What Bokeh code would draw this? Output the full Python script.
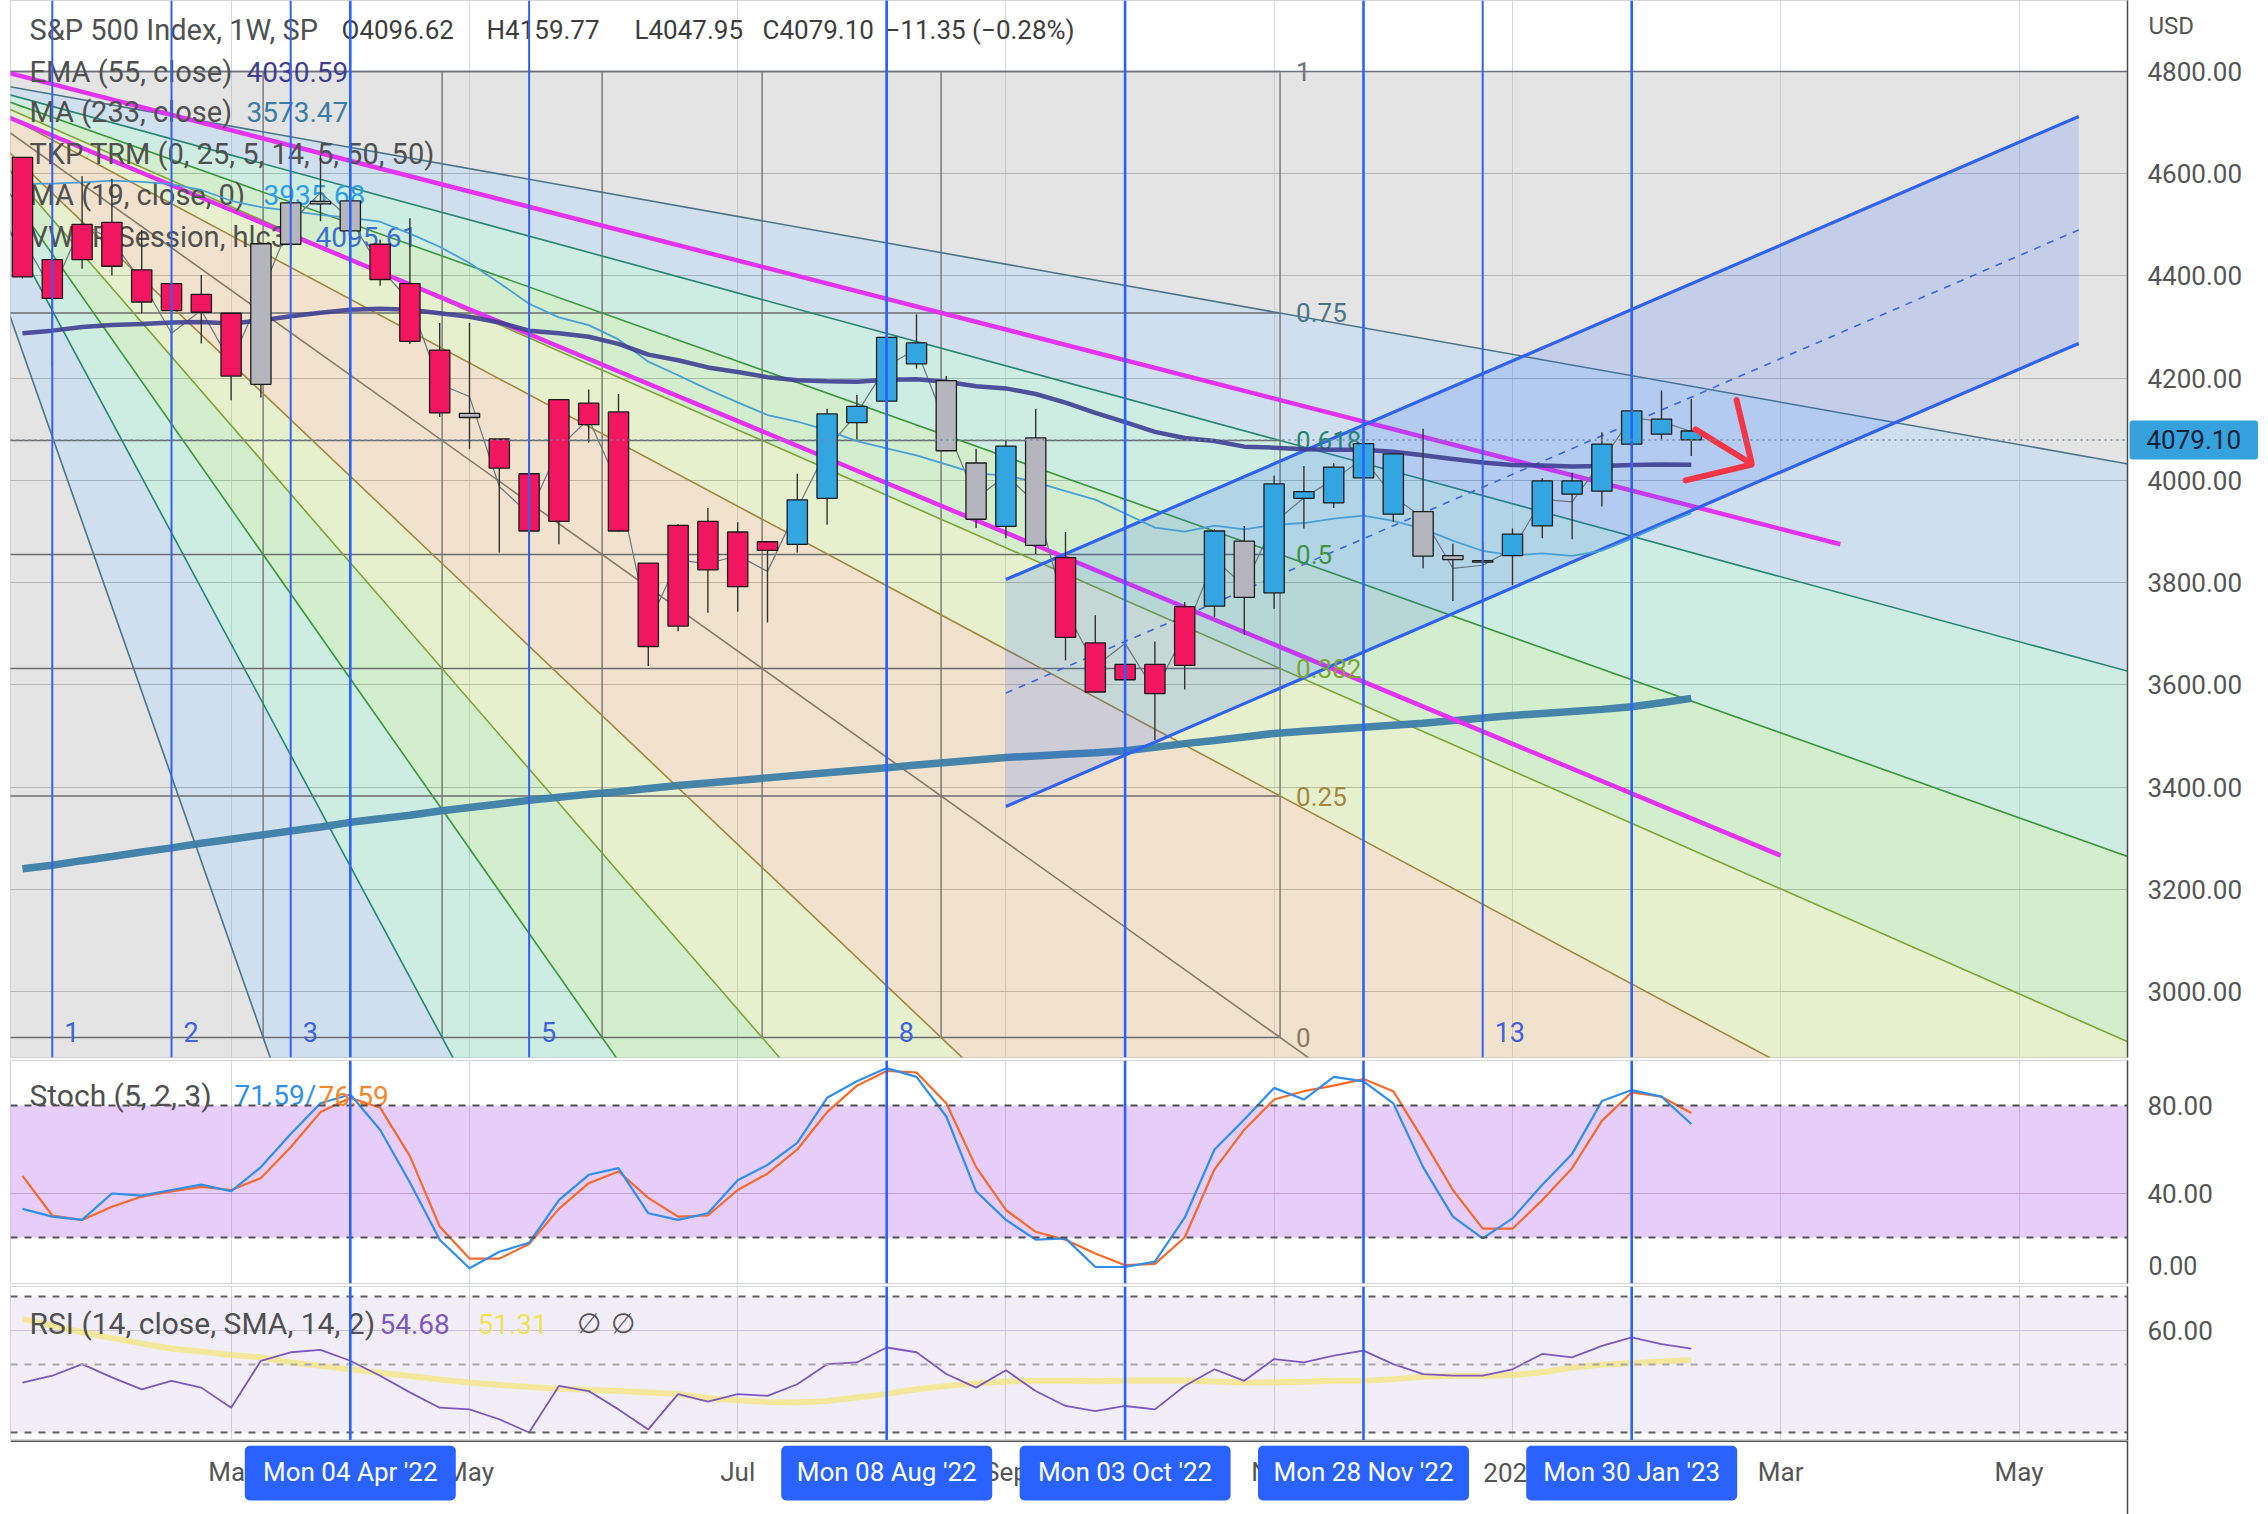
from bokeh.plotting import figure
from bokeh.layouts import column
from bokeh.models import (Range1d, FixedTicker, PrintfTickFormatter, Span,
                          BoxAnnotation, Label, ColumnDataSource, Grid)
from bokeh.core.properties import value
from bokeh.embed import file_html
from bokeh.resources import INLINE

# ======================= DATA (weekly bars, Mon 17 Jan 2022 .. Mon 13 Feb 2023) =======================
opens = [4632, 4356, 4432, 4505, 4412, 4332, 4364, 4327, 4188, 4462,
         4541, 4547, 4462, 4385, 4255, 4131, 4081, 4013, 3920, 4151,
         4134, 3838, 3715, 3920, 3792, 3880, 3875, 3965, 4113, 4155,
         4269, 4195, 4034, 3910, 4083, 3849, 3682, 3610, 3640, 3638,
         3754, 3881, 3780, 3978, 3956, 4005, 4052, 3939, 3853, 3843,
         3853, 3911, 3999, 3979, 4071, 4120, 4096.62]
highs = [4632, 4453, 4595, 4590, 4490, 4363, 4402, 4327, 4466, 4546,
         4637, 4594, 4471, 4513, 4308, 4308, 4081, 4091, 4159, 4178,
         4169, 3838, 3914, 3946, 3918, 3880, 4013, 4140, 4167, 4280,
         4325, 4204, 4062, 4077, 4140, 3899, 3736, 3818, 3685, 3762,
         3905, 3911, 4009, 4028, 4034, 4101, 4052, 4101, 3876, 3878,
         3906, 4004, 4015, 4094, 4195, 4176, 4159.77]
lows = [4395, 4222, 4414, 4401, 4327, 4115, 4268, 4157, 4162, 4424,
        4507, 4450, 4381, 4267, 4124, 4062, 3859, 3811, 3875, 4074,
        3900, 3637, 3705, 3741, 3743, 3722, 3859, 3913, 4080, 4112,
        4219, 4057, 3907, 3887, 3856, 3648, 3585, 3584, 3492, 3591,
        3733, 3698, 3749, 3906, 3946, 3956, 3919, 3828, 3764, 3784,
        3795, 3887, 3885, 3949, 4037, 4080, 4047.95]
closes = [4398, 4432, 4501, 4419, 4349, 4385, 4329, 4204, 4463, 4543,
          4546, 4488, 4393, 4272, 4132, 4123, 4024, 3901, 4158, 4109,
          3901, 3675, 3912, 3825, 3899, 3863, 3962, 4130, 4145, 4280,
          4228, 4058, 3924, 4067, 3873, 3693, 3586, 3640, 3583, 3753,
          3901, 3771, 3993, 3965, 4026, 4072, 3934, 3852, 3845, 3840,
          3895, 3999, 3973, 4071, 4136, 4090.45, 4079.10]
trm_state = ["bear", "bear", "bear", "bear", "bear", "bear", "bear", "bear", "neutral", "neutral",
             "neutral", "neutral", "bear", "bear", "bear", "neutral", "bear", "bear", "bear", "bear",
             "bear", "bear", "bear", "bear", "bear", "bear", "bull", "bull", "bull", "bull",
             "bull", "neutral", "neutral", "bull", "neutral", "bear", "bear", "bear", "bear", "bear",
             "bull", "neutral", "bull", "bull", "bull", "bull", "bull", "neutral", "neutral", "neutral",
             "bull", "bull", "bull", "bull", "bull", "bull", "bull"]
ema55 = [4288, 4293, 4300, 4304, 4306, 4309, 4310, 4307, 4313, 4321,
         4328, 4334, 4336, 4334, 4327, 4320, 4309, 4293, 4288, 4281,
         4267, 4246, 4235, 4221, 4212, 4202, 4196, 4194, 4193, 4197,
         4198, 4193, 4184, 4180, 4169, 4152, 4132, 4114, 4095, 4083,
         4077, 4066, 4064, 4061, 4060, 4060, 4056, 4049, 4042, 4035,
         4030, 4029, 4027, 4028, 4030, 4031, 4030.59]
ma233 = [3240, 3247, 3256, 3264, 3273, 3281, 3290, 3298, 3306, 3314,
         3322, 3331, 3338, 3345, 3353, 3360, 3367, 3374, 3380, 3386,
         3391, 3397, 3403, 3408, 3413, 3418, 3423, 3428, 3433, 3438,
         3443, 3448, 3453, 3458, 3461, 3464, 3467, 3471, 3478, 3485,
         3491, 3498, 3505, 3509, 3513, 3517, 3521, 3525, 3530, 3535,
         3540, 3544, 3548, 3552, 3557, 3565, 3573.47]
ma19 = [4580.6, 4580.6, 4583.0, 4586.3, 4584.1, 4579.5, 4568.2, 4547.1, 4534.7, 4527.3,
        4519.3, 4513.7, 4506.1, 4482.9, 4457.2, 4425.4, 4386.4, 4345.5, 4318.9, 4303.7,
        4275.8, 4232.3, 4205.6, 4178.1, 4152.5, 4127.9, 4115.2, 4097.7, 4076.7, 4062.7,
        4049.1, 4031.4, 4013.1, 4009.7, 3996.5, 3979.1, 3962.5, 3935.3, 3907.6, 3899.8,
        3911.7, 3904.3, 3913.1, 3916.6, 3925.2, 3930.9, 3920.6, 3905.2, 3882.3, 3861.9,
        3853.3, 3857.3, 3852.3, 3862.7, 3886.1, 3912.6, 3935.68]
vwap = [4475, 4369, 4503, 4470, 4389, 4288, 4333, 4229, 4364, 4504,
        4563, 4511, 4415, 4351, 4188, 4164, 3988, 3934, 4064, 4120,
        3990, 3717, 3844, 3837, 3853, 3822, 3945, 4061, 4131, 4224,
        4257, 4106, 3964, 4010, 3956, 3747, 3636, 3681, 3587, 3702,
        3846, 3793, 3917, 3966, 4002, 4043, 3968, 3927, 3828, 3834,
        3865, 3963, 3958, 4038, 4123, 4115, 4095.61]
stoch_k = [33, 29.5, 28, 40, 39, 41.6, 44, 41, 52, 67,
           81, 85, 69, 45, 19, 6, 13.5, 17.6, 37, 48.5,
           51.5, 31, 28, 31, 46, 53, 63, 83.5, 91, 97,
           93, 75, 41, 28, 19, 19.6, 6.6, 6.6, 9, 29,
           60, 73.6, 88, 82.7, 93, 91, 81, 52, 29.5, 19.6,
           28.7, 44, 58, 82, 87, 84, 71.59]
stoch_d = [48, 30, 28, 34, 38.6, 41, 43, 41.6, 47, 61,
           77, 83.5, 79, 57, 25, 10.4, 10.4, 17, 33, 44.7,
           50, 38, 29.5, 30, 41.6, 49, 60, 77, 89, 95.7,
           95, 81, 52, 32.5, 22.6, 19, 12.7, 7.4, 8, 20,
           51, 69, 82.7, 86.5, 89, 92, 86.5, 64.5, 41.6, 24,
           24, 37, 51.5, 73, 86, 84, 76.59]
rsi14 = [44.7, 46.7, 50.1, 46.2, 42.7, 45.2, 43.2, 37.3, 51.1, 53.6,
         54.3, 51.1, 46.7, 41.8, 37.3, 36.8, 33.9, 30.0, 43.7, 42.2,
         36.8, 30.9, 41.3, 39.1, 41.3, 40.8, 44.2, 50.1, 50.6, 55.0,
         53.6, 47.2, 43.2, 48.3, 42.2, 37.8, 36.3, 37.8, 36.8, 43.7,
         48.6, 45.2, 51.6, 50.6, 52.6, 54.1, 50.1, 47.2, 46.7, 46.7,
         48.6, 53.1, 52.1, 55.5, 58.0, 56.0, 54.68]
rsi_sma = [63.4, 61.4, 59.5, 57.8, 56.2, 54.7, 53.8, 52.8, 52.1, 50.6,
           49.6, 48.6, 47.6, 46.6, 45.6, 44.7, 44.0, 43.4, 42.9, 42.6,
           42.2, 41.8, 41.3, 40.1, 39.5, 39.0, 38.8, 39.3, 40.3, 41.3,
           42.7, 43.7, 44.4, 45.0, 45.2, 45.2, 45.1, 45.2, 45.3, 45.2,
           45.0, 44.7, 44.7, 44.9, 45.2, 45.2, 45.7, 46.4, 46.7, 46.7,
           46.9, 47.7, 49.1, 49.9, 50.4, 50.9, 51.31]

price_ticks = [3000, 3200, 3400, 3600, 3800, 4000, 4200, 4400, 4600, 4800]
stoch_ticks = [40, 80]
stoch_floor_tick = 0
rsi_ticks = [60]
stoch_bands = [20, 80]
rsi_bands = [30, 50, 70]
month_tick_pos = [7, 15, 24, 33, 42, 50, 59, 67]
month_tick_labels = ["Mar", "May", "Jul", "Sep", "Nov", "2023", "Mar", "May"]
marker_pos = [11, 29, 37, 45, 54]
marker_labels = ["Mon 04 Apr '22", "Mon 08 Aug '22", "Mon 03 Oct '22", "Mon 28 Nov '22", "Mon 30 Jan '23"]
fib_zone_pos = [1, 5, 9, 17, 29, 49]
fib_zone_labels = ["1", "2", "3", "5", "8", "13"]
fan_levels = [1, 0.75, 0.618, 0.5, 0.382, 0.25, 0]
fan_level_labels = ["1", "0.75", "0.618", "0.5", "0.382", "0.25", "0"]
fan_anchor_x = [-3.3, 42.2]
fan_anchor_price = [4800, 2910]
channel_x = [33, 69]
channel_upper = [3806, 4712]
channel_lower = [3362, 4268]
trend_a_x, trend_a_y = [-0.45, 61.0], [4797, 3875]
trend_b_x, trend_b_y = [-0.45, 59.0], [4710, 3266]
arrow_xs = [[56.14, 57.95], [57.52, 58.02], [58.02, 55.81]]
arrow_ys = [[4100, 4035], [4157, 4035], [4031, 4000]]
last_price = closes[-1]

# ======================= LAYOUT / STYLE =======================
FONT = "Roboto"
FRAME_LEFT, FRAME_W, AXIS_W = 10, 2117, 141
BAR_PX, FIRST_BAR_PX = 29.8, 22.0
X_MIN = (FRAME_LEFT - FIRST_BAR_PX) / BAR_PX
X_MAX = (FRAME_LEFT + FRAME_W - FIRST_BAR_PX) / BAR_PX
MAIN_H, STOCH_H, RSI_H, TIME_H = 1057, 223, 154, 74
P_TOP, P_BOT = 4938.9, 2870.9
S_TOP, S_BOT = 100.45, -0.91
R_TOP, R_BOT = 72.94, 27.65


def px_x(px):
    return (px - FIRST_BAR_PX) / BAR_PX


def main_y(py):
    return P_TOP - py * (P_TOP - P_BOT) / MAIN_H


def stoch_y(py):
    return S_TOP - (py - 1060) * (S_TOP - S_BOT) / STOCH_H


def rsi_y(py):
    return R_TOP - (py - 1286) * (R_TOP - R_BOT) / RSI_H


x_range = Range1d(X_MIN, X_MAX)


def make_fig(h, y0, y1, top=0, bottom=0, outline="#d4d6d9"):
    f = figure(frame_width=FRAME_W, frame_height=h, x_range=x_range, y_range=Range1d(y0, y1),
               x_axis_location=None, y_axis_location="right", toolbar_location=None,
               output_backend="svg", min_border_left=FRAME_LEFT, min_border_right=AXIS_W,
               min_border_top=top, min_border_bottom=bottom, outline_line_color=outline,
               background_fill_color="white", border_fill_color="white")
    f.grid.visible = False
    return f


def style_yaxis(f, ticks):
    a = f.yaxis[0]
    a.ticker = FixedTicker(ticks=ticks)
    a.formatter = PrintfTickFormatter(format="%.2f")
    a.major_tick_line_color = None
    a.minor_tick_line_color = None
    a.major_tick_out = 0
    a.major_tick_in = 0
    a.axis_line_color = "#4a4a4a"
    a.axis_line_width = 1.5
    a.major_label_text_font = FONT
    a.major_label_text_font_size = "26px"
    a.major_label_text_color = "#555555"
    a.major_label_standoff = 20


def add_grids(f, yticks, ycolor):
    f.add_layout(Grid(dimension=0, ticker=FixedTicker(ticks=month_tick_pos),
                      grid_line_color="#d3d8dc", grid_line_width=1))
    if yticks:
        f.add_layout(Grid(dimension=1, ticker=FixedTicker(ticks=yticks),
                          grid_line_color=ycolor, grid_line_width=1))


def txt(f, xs, ys, texts, color, size="28px", align="left", baseline="middle", **kw):
    f.text(x=xs, y=ys, text=texts, text_color=color, text_font=value(FONT),
           text_font_size=value(size), text_align=align, text_baseline=baseline, **kw)


xs = list(range(len(closes)))

# ======================= MAIN PRICE PANE =======================
p = make_fig(MAIN_H, P_BOT, P_TOP, top=0, bottom=2)
style_yaxis(p, price_ticks)
add_grids(p, price_ticks, "#b9b9b9")

# --- Fib speed resistance fan ---
ax_, bx_ = fan_anchor_x
ay_, by_ = fan_anchor_price
FW_, FH_ = bx_ - ax_, ay_ - by_
level_colors = {1: "#6f7380", 0.75: "#4a7588", 0.618: "#23876f", 0.5: "#3b963d",
                0.382: "#7fa436", 0.25: "#a3873f", 0: "#8a7868"}
zone_colors = ["#b2b2b2", "#76a4ce", "#70c9ac", "#7ece70", "#b8d470", "#d4ac70"]
price_dirs = [(FW_, -(1 - L) * FH_) for L in fan_levels]
time_levels = list(reversed(fan_levels))[1:]
time_dirs = [((1 - L) * FW_, -FH_) for L in time_levels]
dirs = price_dirs + time_dirs
ray_levels = fan_levels + time_levels
wedge_colors = zone_colors + list(reversed(zone_colors))
K = 60
wx, wy = [], []
for i in range(len(dirs) - 1):
    d1, d2 = dirs[i], dirs[i + 1]
    wx.append([ax_, ax_ + K * d1[0], ax_ + K * d2[0]])
    wy.append([ay_, ay_ + K * d1[1], ay_ + K * d2[1]])
p.patches(wx, wy, fill_color=wedge_colors, fill_alpha=0.35, line_color=None)

box_y = [by_ + L * FH_ for L in fan_levels]
p.segment(x0=[ax_] * len(box_y), y0=box_y, x1=[bx_] * len(box_y), y1=box_y,
          line_color="#6c6c6c", line_width=1.3)
box_x = [ax_ + (1 - L) * FW_ for L in fan_levels]
p.segment(x0=box_x, y0=[ay_] * len(box_x), x1=box_x, y1=[by_] * len(box_x),
          line_color="#6c6c6c", line_width=1.3)
p.segment(x0=[ax_] * len(dirs), y0=[ay_] * len(dirs),
          x1=[ax_ + K * d[0] for d in dirs], y1=[ay_ + K * d[1] for d in dirs],
          line_color=[level_colors[L] for L in ray_levels], line_width=1.6)

# MA 233
p.line(xs, ma233, line_color="#3c7ea6", line_width=7.5, line_alpha=0.95)
# magenta trend lines
p.multi_line([trend_a_x, trend_b_x], [trend_a_y, trend_b_y], line_color="#e533f3", line_width=4.5)
# parallel channel
p.patch([channel_x[0], channel_x[0], channel_x[1], channel_x[1]],
        [channel_lower[0], channel_upper[0], channel_upper[1], channel_lower[1]],
        fill_color="#2962ff", fill_alpha=0.17, line_color=None)
p.multi_line([channel_x, channel_x], [channel_upper, channel_lower], line_color="#2f62f0", line_width=3.2)
p.line(channel_x, [(u + l) / 2 for u, l in zip(channel_upper, channel_lower)],
       line_color="#3a66e8", line_width=1.6, line_dash="7 7")

# legend texts (under the candles)
LEG = "#505050"
txt(p, [px_x(29)], [main_y(29)], ["S&P 500 Index, 1W, SP"], LEG, "29px")
hdr = [f"O{opens[-1]:.2f}", f"H{highs[-1]:.2f}", f"L{lows[-1]:.2f}", f"C{closes[-1]:.2f}",
       f"\u2212{abs(closes[-1] - closes[-2]):.2f} (\u2212{abs(closes[-1] / closes[-2] - 1) * 100:.2f}%)"]
txt(p, [px_x(v) for v in [341, 486, 634, 762, 885]], [main_y(29)] * 5, hdr, "#3d3d3d", "26px")
rows_y = [main_y(v) for v in [71, 111, 153, 194, 236]]
txt(p, [px_x(29)] * 5, rows_y,
    ["EMA (55, close)", "MA (233, close)", "TKP TRM (0, 25, 5, 14, 5, 50, 50)",
     "MA (19, close, 0)", "VWAP Session, hlc3"], LEG, "29px")
txt(p, [px_x(246)], [rows_y[0]], [f"{ema55[-1]:.2f}"], "#3f3f92", "28px")
txt(p, [px_x(246)], [rows_y[1]], [f"{ma233[-1]:.2f}"], "#3c7ea6", "28px")
txt(p, [px_x(263)], [rows_y[3]], [f"{ma19[-1]:.2f}"], "#2d9fe6", "28px")
txt(p, [px_x(315)], [rows_y[4]], [f"{vwap[-1]:.2f}"], "#3b6fd6", "28px")

# fan level labels & fib time-zone labels
txt(p, [bx_] * len(fan_levels), box_y, fan_level_labels,
    [level_colors[L] for L in fan_levels], "26px", x_offset=16)
txt(p, fib_zone_pos, [main_y(1031)] * len(fib_zone_pos), fib_zone_labels, "#3f63e0", "27px", x_offset=12)

# indicator lines
p.line(xs, vwap, line_color="#6b7680", line_width=1.2)
p.line(xs, ma19, line_color="#4a9fd8", line_width=1.8)
p.line(xs, ema55, line_color="#3f3f92", line_width=4.5, line_alpha=0.9)

# candles
state_colors = {"bear": "#f2155f", "bull": "#33a6e2", "neutral": "#b5b6bd"}
src = ColumnDataSource(dict(x=xs, h=highs, l=lows,
                            top=[max(o, c) for o, c in zip(opens, closes)],
                            bottom=[min(o, c) for o, c in zip(opens, closes)],
                            color=[state_colors[s] for s in trm_state]))
p.segment(x0="x", y0="l", x1="x", y1="h", source=src, line_color="#333333", line_width=1.4)
p.vbar(x="x", top="top", bottom="bottom", width=0.68, fill_color="color",
       line_color="#1c1c1c", line_width=1.3, source=src)

# red arrow
p.multi_line(arrow_xs, arrow_ys, line_color="#f23645", line_width=6, line_cap="round", line_join="round")

# annotations
for pos in fib_zone_pos:
    p.add_layout(Span(location=pos, dimension="height", line_color="#3362ef", line_width=2))
for pos in marker_pos:
    p.add_layout(Span(location=pos, dimension="height", line_color="#2962ff", line_width=2.6))
p.add_layout(Span(location=last_price, dimension="width", line_color="#6f8aa5",
                  line_width=1.5, line_dash="2 4"))
# labels living in the right-hand (price scale) panel
p.add_layout(Label(x=px_x(2129), y=last_price, text=f"{last_price:.2f}", text_font=FONT,
                   text_font_size="26px", text_color="#0d2137", text_baseline="middle",
                   background_fill_color="#36a2dd", padding=(17, 10), border_radius=3), "right")
p.add_layout(Label(x=px_x(2148), y=main_y(25), text="USD", text_font=FONT, text_font_size="24px",
                   text_color="#555555", text_baseline="middle"), "right")

# ======================= STOCH PANE =======================
s = make_fig(STOCH_H, S_BOT, S_TOP, top=1, bottom=1)
style_yaxis(s, stoch_ticks)
add_grids(s, [40], "#cbbfd8")
s.add_layout(BoxAnnotation(bottom=stoch_bands[0], top=stoch_bands[1], fill_color="#9b37eb",
                           fill_alpha=0.25, line_color=None, level="underlay"))
for b in stoch_bands:
    s.add_layout(Span(location=b, dimension="width", line_color="#505050", line_width=2, line_dash="7 7"))
s.line(xs, stoch_d, line_color="#f76b2a", line_width=2.2)
s.line(xs, stoch_k, line_color="#2f8ff0", line_width=2.2)
for pos in marker_pos:
    s.add_layout(Span(location=pos, dimension="height", line_color="#2962ff", line_width=2.6))
sy = stoch_y(1095)
txt(s, [px_x(29)], [sy], ["Stoch (5, 2, 3)"], LEG, "30px")
txt(s, [px_x(234)], [sy], [f"{stoch_k[-1]:.2f}/"], "#2f8ff0", "28px")
txt(s, [px_x(318)], [sy], [f"{stoch_d[-1]:.2f}"], "#f7862a", "28px")
# floor label of the stoch scale, kept fully inside the pane
s.add_layout(Label(x=px_x(2148), y=stoch_y(1265), text=f"{stoch_floor_tick:.2f}", text_font=FONT,
                   text_font_size="25px", text_color="#555555", text_baseline="middle"), "right")

# ======================= RSI PANE =======================
r = make_fig(RSI_H, R_BOT, R_TOP, top=2, bottom=0)
style_yaxis(r, rsi_ticks)
add_grids(r, [60], "#d6d0e2")
r.add_layout(BoxAnnotation(bottom=rsi_bands[0], top=rsi_bands[2], fill_color="#7e57c2",
                           fill_alpha=0.1, line_color=None, level="underlay"))
for b, c in zip(rsi_bands, ["#606060", "#a8a8a8", "#606060"]):
    r.add_layout(Span(location=b, dimension="width", line_color=c, line_width=2, line_dash="7 7"))
r.line(xs, rsi_sma, line_color="#f1e25c", line_width=6, line_alpha=0.6)
r.line(xs, rsi14, line_color="#7e57c2", line_width=1.8)
for pos in marker_pos:
    r.add_layout(Span(location=pos, dimension="height", line_color="#2962ff", line_width=2.6))
ry = rsi_y(1323)
txt(r, [px_x(29)], [ry], ["RSI (14, close, SMA, 14, 2)"], LEG, "30px")
txt(r, [px_x(379)], [ry], [f"{rsi14[-1]:.2f}"], "#7e57c2", "28px")
txt(r, [px_x(477)], [ry], [f"{rsi_sma[-1]:.2f}"], "#efe15a", "28px")
txt(r, [px_x(576), px_x(610)], [ry, ry], ["\u2205", "\u2205"], "#555555", "28px")

# ======================= TIME AXIS =======================
t = make_fig(TIME_H, 0, 1, top=0, bottom=0, outline=None)
t.yaxis[0].ticker = FixedTicker(ticks=[])
t.yaxis[0].axis_line_color = "#4a4a4a"
t.yaxis[0].axis_line_width = 1.5
t.yaxis[0].major_label_text_font_size = "0px"
t.add_layout(Span(location=1, dimension="width", line_color="#555555", line_width=3))
txt(t, month_tick_pos, [0.57] * len(month_tick_pos), month_tick_labels, "#555555", "26px", align="center")
t.vbar(x=marker_pos, top=[0.93] * len(marker_pos), bottom=[0.19] * len(marker_pos),
       width=211 / BAR_PX, fill_color="#2962ff", line_color=None, border_radius=5)
txt(t, marker_pos, [0.57] * len(marker_pos), marker_labels, "white", "26px", align="center")

layout = column(p, s, r, t, spacing=0)
open("out.html", "w").write(file_html(layout, INLINE))
